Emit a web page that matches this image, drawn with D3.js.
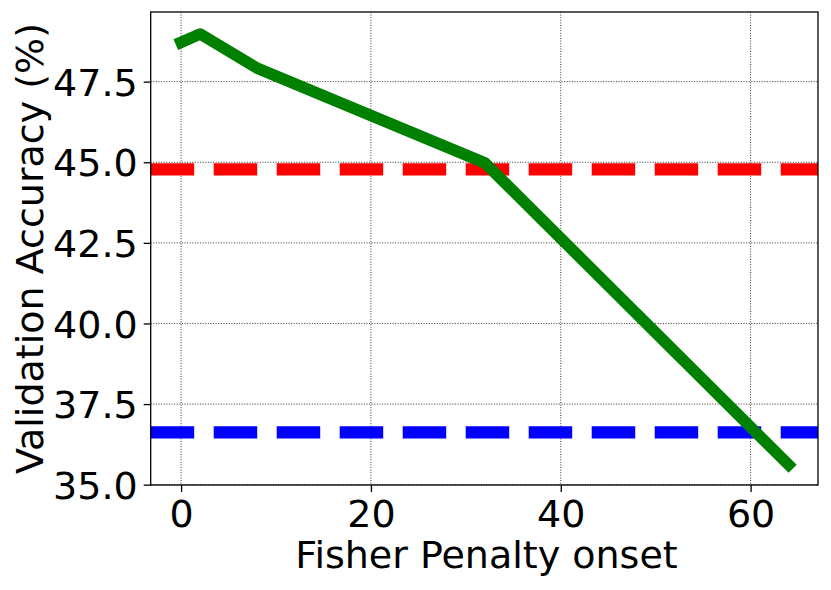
<!DOCTYPE html>
<html>
<head>
<meta charset="utf-8">
<script src="https://cdn.jsdelivr.net/npm/d3@7"></script>
<style>
  html, body { margin: 0; padding: 0; background: #fff; }
  svg { display: block; }
  text { font-family: "DejaVu Sans", sans-serif; fill: #000; }
</style>
</head>
<body>
<svg id="chart" width="831" height="590"></svg>
<script>
// ---- data ----
const onsetX = [0, 2, 8, 32, 64];
const accuracyY = [48.72, 48.98, 47.92, 44.98, 35.62];
const redLevel = 44.78;   // horizontal red dashed reference
const blueLevel = 36.62;  // horizontal blue dashed reference
const xTicks = [0, 20, 40, 60];
const yTicks = [35.0, 37.5, 40.0, 42.5, 45.0, 47.5];
const xLabel = "Fisher Penalty onset";
const yLabel = "Validation Accuracy (%)";

// ---- layout ----
const pLeft = 150.7, pRight = 818, pTop = 12, pBottom = 485;
const fontPx = 38;
const svg = d3.select("#chart");

const x = d3.scaleLinear().domain([-3.2, 67.1]).range([pLeft, pRight]);
const y = d3.scaleLinear().domain([34.99, 49.66]).range([pBottom, pTop]);

// grid
const grid = svg.append("g");
grid.selectAll("line.gx").data(xTicks).join("line")
  .attr("class", "gx")
  .attr("x1", d => x(d)).attr("x2", d => x(d))
  .attr("y1", pTop).attr("y2", pBottom)
  .attr("stroke", "#333").attr("stroke-width", 1).attr("stroke-dasharray", "1,1.6");
grid.selectAll("line.gy").data(yTicks).join("line")
  .attr("class", "gy")
  .attr("y1", d => y(d)).attr("y2", d => y(d))
  .attr("x1", pLeft).attr("x2", pRight)
  .attr("stroke", "#333").attr("stroke-width", 1).attr("stroke-dasharray", "1,1.6");

// clip
svg.append("clipPath").attr("id", "plotclip").append("rect")
  .attr("x", pLeft).attr("y", pTop).attr("width", pRight - pLeft).attr("height", pBottom - pTop);

const plot = svg.append("g").attr("clip-path", "url(#plotclip)");

// reference lines
[[redLevel, "#ff0000"], [blueLevel, "#0000ff"]].forEach(([v, c]) => {
  plot.append("line")
    .attr("x1", pLeft).attr("x2", pRight)
    .attr("y1", y(v)).attr("y2", y(v))
    .attr("stroke", c).attr("stroke-width", 12.3)
    .attr("stroke-dasharray", "43.5,19.5");
});

// main line
const pts = onsetX.map((d, i) => [d, accuracyY[i]]);
plot.append("path")
  .datum(pts)
  .attr("d", d3.line().x(d => x(d[0])).y(d => y(d[1])))
  .attr("fill", "none")
  .attr("stroke", "#008000")
  .attr("stroke-width", 11.5)
  .attr("stroke-linecap", "square")
  .attr("stroke-linejoin", "round");

// axes
const xAxis = d3.axisBottom(x).tickValues(xTicks).tickFormat(d3.format("d"))
  .tickSize(7).tickPadding(9);
const yAxis = d3.axisLeft(y).tickValues(yTicks).tickFormat(d3.format(".1f"))
  .tickSize(7).tickPadding(6);

const gx = svg.append("g").attr("transform", `translate(0,${pBottom})`).call(xAxis);
const gy = svg.append("g").attr("transform", `translate(${pLeft},0)`).call(yAxis);
[gx, gy].forEach(g => {
  g.select(".domain").remove();
  g.selectAll(".tick line").attr("stroke", "#000").attr("stroke-width", 1.3);
  g.selectAll(".tick text").attr("font-size", fontPx).attr("font-family", "DejaVu Sans").attr("fill", "#000");
});
gx.selectAll(".tick text").attr("dy", null).attr("y", 42);
gy.selectAll(".tick text").attr("dy", "0.36em");

// spines
svg.append("rect")
  .attr("x", pLeft).attr("y", pTop).attr("width", pRight - pLeft).attr("height", pBottom - pTop)
  .attr("fill", "none").attr("stroke", "#000").attr("stroke-width", 1.3);

// labels
svg.append("text")
  .attr("x", 486.5).attr("y", 568)
  .attr("text-anchor", "middle").attr("font-size", fontPx)
  .text(xLabel);
svg.append("text")
  .attr("transform", `translate(43,${(pTop + pBottom) / 2}) rotate(-90)`)
  .attr("text-anchor", "middle").attr("font-size", fontPx)
  .text(yLabel);
</script>
</body>
</html>
